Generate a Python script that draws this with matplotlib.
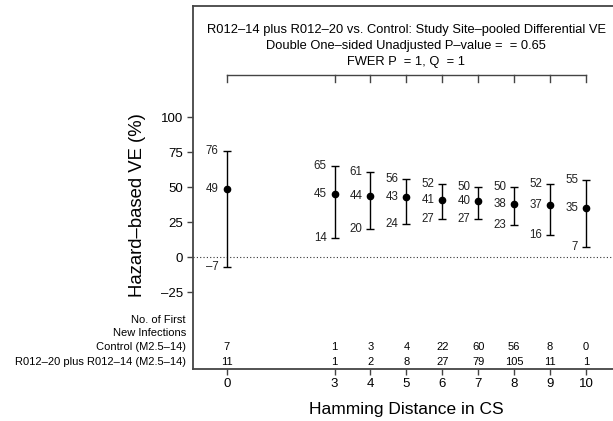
import matplotlib
matplotlib.use("Agg")
import matplotlib.pyplot as plt

plt.rcParams['font.family'] = ['Liberation Sans', 'DejaVu Sans']

# hamming distance groups
dist = [0, 3, 4, 5, 6, 7, 8, 9, 10]
# differential VE estimate with 95% CI (%)
ve_est = [49, 45, 44, 43, 41, 40, 38, 37, 35]
ve_lo = [-7, 14, 20, 24, 27, 27, 23, 16, 7]
ve_hi = [76, 65, 61, 56, 52, 50, 50, 52, 55]
# number of first new infections
n_control = [7, 1, 3, 4, 22, 60, 56, 8, 0]
n_vaccine = [11, 1, 2, 8, 27, 79, 105, 11, 1]

title_lines = ["R012\u201314 plus R012\u201320 vs. Control: Study Site\u2013pooled Differential VE",
               "Double One\u2013sided Unadjusted P\u2013value =  = 0.65",
               "FWER P  = 1, Q  = 1"]
row_labels = ["No. of First", "New Infections", "Control (M2.5\u201314)",
              "R012\u201320 plus R012\u201314 (M2.5\u201314)"]

frame_col = "#444444"

fig = plt.figure(figsize=(6.13, 4.21), dpi=100)
ax = fig.add_axes([0.3144, 0.1242, 0.697, 0.8615])
ax.set_xlim(-0.946, 10.946)
ax.set_ylim(-79.6, 179.5)

for side in ["top", "left", "bottom", "right"]:
    ax.spines[side].set_color(frame_col)
    ax.spines[side].set_linewidth(1.3)

# reference line at 0
ax.axhline(0, color="#333333", lw=0.8, ls=(0, (1, 2)))

# CIs and estimates
err = [[e - l for e, l in zip(ve_est, ve_lo)], [h - e for e, h in zip(ve_est, ve_hi)]]
ax.errorbar(dist, ve_est, yerr=err, fmt="o", color="black", ms=4.5,
            elinewidth=1.0, capsize=3, capthick=1.0)

for x, e, l, h in zip(dist, ve_est, ve_lo, ve_hi):
    for v in (e, l, h):
        ax.text(x - 0.22, v, str(v).replace("-", "\u2013"), ha="right", va="center",
                fontsize=8.3, color="#222222")

# bracket at top
ax.plot([dist[0], dist[-1]], [130, 130], color=frame_col, lw=1.0)
for x in dist:
    ax.plot([x, x], [130, 125], color=frame_col, lw=1.0)

for i, line in enumerate(title_lines):
    ax.text(5, [162.4, 150.9, 139.7][i], line, ha="center", va="center", fontsize=9.3)

# count table
row_y = [-44.8, -54.3, -64.3, -74.6]
for lab, y in zip(row_labels, row_y):
    ax.text(-1.14, y, lab, ha="right", va="center", fontsize=8, clip_on=False)
for x, c, v in zip(dist, n_control, n_vaccine):
    ax.text(x, row_y[2], str(c), ha="center", va="center", fontsize=8)
    ax.text(x, row_y[3], str(v), ha="center", va="center", fontsize=8)

ax.set_yticks([100, 75, 50, 25, 0, -25])
ax.set_yticklabels(["100", "75", "50", "25", "0", "\u201325"])
ax.set_xticks(dist)
ax.tick_params(axis="both", direction="out", length=4, width=1.0, color=frame_col,
               labelsize=9.5, pad=3)

ax.text(-2.47, 37.4, "Hazard\u2013based VE (%)", rotation=90, ha="center", va="center",
        fontsize=13.3, clip_on=False)
ax.text(5, -108.5, "Hamming Distance in CS", ha="center", va="center",
        fontsize=12.5, clip_on=False)

fig.savefig("out.png", dpi=100)
